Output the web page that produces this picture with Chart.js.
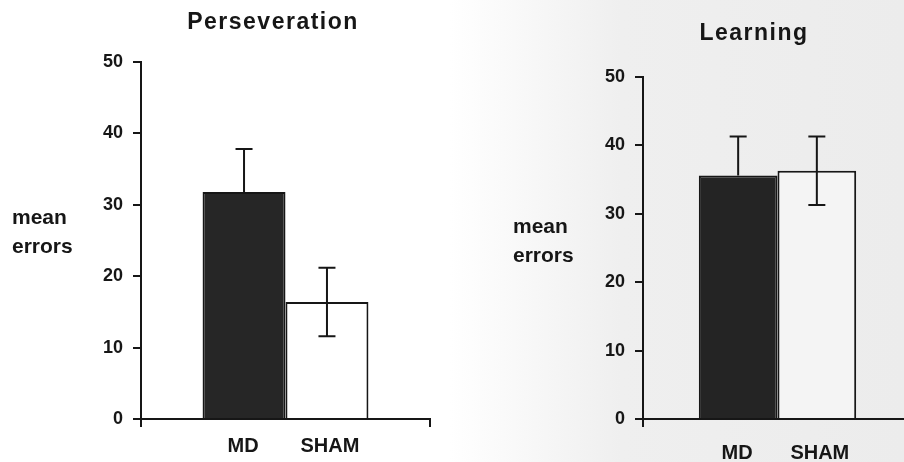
<!DOCTYPE html>
<html lang="en">
<head>
    <meta charset="UTF-8">
    <title>Perseveration and Learning - mean errors</title>
    <script src="https://cdn.jsdelivr.net/npm/chart.js"></script>
    <style>
        * {
            margin: 0;
            padding: 0;
            box-sizing: border-box;
        }
        body {
            width: 904px;
            height: 462px;
            overflow: hidden;
            position: relative;
            background: linear-gradient(90deg, #ffffff 0px, #ffffff 450px, #efefef 620px, #ececec 904px);
        }
        canvas {
            position: absolute;
            top: 0;
        }
        #persevChart { left: 0; }
        #learnChart { left: 450px; }
    </style>
</head>
<body>
    <canvas id="persevChart" width="450" height="462"></canvas>
    <canvas id="learnChart" width="470" height="462"></canvas>

    <script>
        // Groups and results
        const groups = ['MD', 'SHAM'];
        const persevMean = [31.8, 16.4];
        const persevErr = [6.0, 4.8];
        const learnMean = [35.6, 36.3];
        const learnErr = [5.7, 5.0];
        const yTicks = [0, 10, 20, 30, 40, 50];
        // the lower whisker is lost inside the dark MD bar, so only SHAM shows it
        const showLower = [false, true];

        const INK = '#161616';
        const FONT = '"Liberation Sans", Arial, sans-serif';

        // Error bars: vertical line with caps on each bar
        const errorBars = {
            id: 'errorBars',
            afterDatasetsDraw(chart, args, opts) {
                const ctx = chart.ctx;
                const y = chart.scales.y;
                ctx.save();
                ctx.strokeStyle = INK;
                ctx.lineWidth = 2;
                chart.data.datasets.forEach((ds, i) => {
                    const bar = chart.getDatasetMeta(i).data[0];
                    const v = ds.data[0];
                    const e = opts.errors[i];
                    const top = y.getPixelForValue(v + e);
                    const bot = showLower[i] ? y.getPixelForValue(v - e) : y.getPixelForValue(v);
                    const w = 8.5;
                    ctx.beginPath();
                    ctx.moveTo(bar.x, top);
                    ctx.lineTo(bar.x, bot);
                    ctx.moveTo(bar.x - w, top);
                    ctx.lineTo(bar.x + w, top);
                    if (showLower[i]) {
                        ctx.moveTo(bar.x - w, bot);
                        ctx.lineTo(bar.x + w, bot);
                    }
                    ctx.stroke();
                });
                ctx.restore();
            }
        };

        // Panel title, horizontal axis caption and group names under the bars
        const panelText = {
            id: 'panelText',
            afterDraw(chart, args, opts) {
                const ctx = chart.ctx;
                ctx.save();
                ctx.fillStyle = INK;
                ctx.textBaseline = 'alphabetic';

                ctx.font = 'bold 23px ' + FONT;
                ctx.letterSpacing = '1.5px';
                ctx.textAlign = 'center';
                ctx.fillText(opts.title, opts.titleX, opts.titleY);

                ctx.font = 'bold 21px ' + FONT;
                ctx.letterSpacing = '0px';
                ctx.textAlign = 'left';
                opts.caption.forEach((line, k) => {
                    ctx.fillText(line, opts.captionX, opts.captionY + k * 29);
                });

                ctx.font = 'bold 20px ' + FONT;
                ctx.textAlign = 'center';
                chart.data.datasets.forEach((ds, i) => {
                    const bar = chart.getDatasetMeta(i).data[0];
                    ctx.fillText(ds.label, bar.x + (i ? 3 : -1), opts.labelY);
                });
                ctx.restore();
            }
        };

        function makeChart(id, title, means, errs, fills, cfg) {
            return new Chart(document.getElementById(id), {
                type: 'bar',
                data: {
                    labels: [''],
                    datasets: groups.map((g, i) => ({
                        label: g,
                        data: [means[i]],
                        backgroundColor: fills[i],
                        borderColor: INK,
                        borderWidth: 2,
                        barPercentage: 1,
                        categoryPercentage: cfg.groupWidth
                    }))
                },
                options: {
                    responsive: false,
                    animation: false,
                    layout: {
                        padding: { top: cfg.top, right: cfg.right, left: 0, bottom: 0 }
                    },
                    plugins: {
                        legend: { display: false },
                        title: { display: false },
                        tooltip: { enabled: false },
                        errorBars: { errors: errs },
                        panelText: {
                            title: title,
                            titleX: cfg.titleX,
                            titleY: cfg.titleY,
                            caption: ['mean', 'errors'],
                            captionX: cfg.captionX,
                            captionY: cfg.captionY,
                            labelY: cfg.labelY
                        }
                    },
                    scales: {
                        x: {
                            grid: {
                                display: true,
                                drawOnChartArea: false,
                                color: INK,
                                lineWidth: 2,
                                tickLength: 8
                            },
                            border: { color: INK, width: 2 },
                            ticks: { display: false },
                            afterFit: s => { s.height = 43; }
                        },
                        y: {
                            min: yTicks[0],
                            max: yTicks[yTicks.length - 1],
                            afterBuildTicks: s => { s.ticks = yTicks.map(v => ({ value: v })); },
                            grid: {
                                drawOnChartArea: false,
                                color: INK,
                                lineWidth: 2,
                                tickLength: 8
                            },
                            border: { color: INK, width: 2 },
                            ticks: {
                                color: INK,
                                padding: 10,
                                font: { family: FONT, size: 18, weight: 'bold' }
                            },
                            afterFit: s => { s.width = cfg.axisLeft; }
                        }
                    }
                },
                plugins: [errorBars, panelText]
            });
        }

        makeChart('persevChart', 'Perseveration', persevMean, persevErr, ['#262626', '#ffffff'], {
            groupWidth: 0.574, top: 62, right: 20, axisLeft: 141,
            titleX: 273, titleY: 29, captionX: 12, captionY: 224, labelY: 452
        });

        makeChart('learnChart', 'Learning', learnMean, learnErr, ['#242424', '#f4f4f4'], {
            groupWidth: 0.585, top: 77, right: 8, axisLeft: 193,
            titleX: 304, titleY: 40, captionX: 63, captionY: 233, labelY: 459
        });
    </script>
</body>
</html>
